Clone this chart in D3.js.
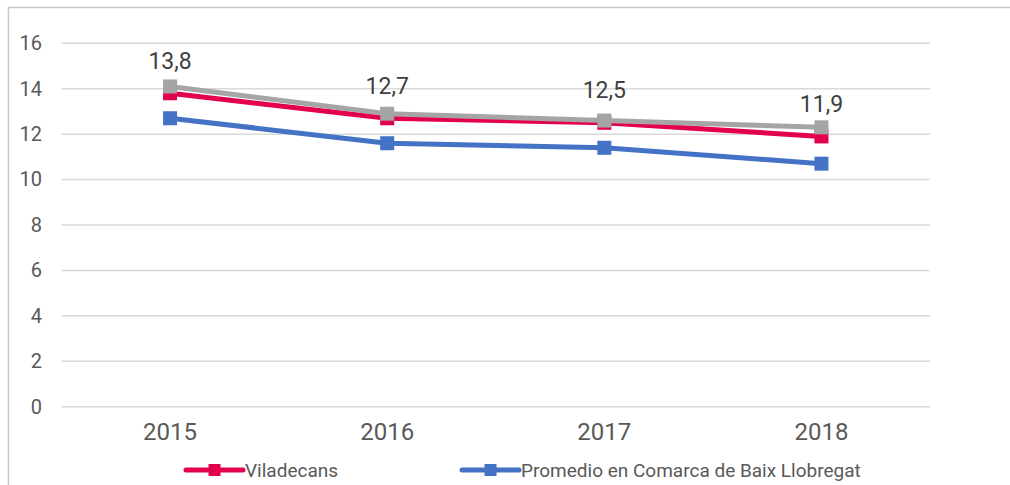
<!DOCTYPE html>
<html><head><meta charset="utf-8">
<script src="https://cdn.jsdelivr.net/npm/d3@7"></script>
<style>
html,body{margin:0;padding:0;background:#fff;}
svg{display:block;font-family:Roboto, "Noto Sans", sans-serif;}
</style></head>
<body><svg id="c" width="1010" height="485"></svg>
<script>
const categories = ["2015","2016","2017","2018"];
const viladecans = [13.8, 12.7, 12.5, 11.9];
const promedio = [12.7, 11.6, 11.4, 10.7];
const tercera = [14.1, 12.9, 12.6, 12.3];
const yTicks = [0,2,4,6,8,10,12,14,16];
const labels = ["13,8","12,7","12,5","11,9"];

const svg = d3.select("#c");
const x = d3.scaleBand().domain(categories).range([61.5, 930]).padding(0);
const y = d3.scaleLinear().domain([0,16]).range([406.7, 43.3]);
const cx = d => x(d) + x.bandwidth()/2;

// frame
svg.append("line").attr("x1",8.5).attr("x2",8.5).attr("y1",7).attr("y2",485).attr("stroke","#c8c8c8").attr("stroke-width",1.5);
svg.append("line").attr("x1",8).attr("x2",1010).attr("y1",7.5).attr("y2",7.5).attr("stroke","#c8c8c8").attr("stroke-width",1.5);

// grid
svg.append("g").selectAll("line").data(yTicks).join("line")
  .attr("x1",61.5).attr("x2",930).attr("y1",d=>y(d)).attr("y2",d=>y(d))
  .attr("stroke","#d9d9d9").attr("stroke-width",1.5);

// y axis labels
const yAxis = d3.axisLeft(y).tickValues(yTicks).tickSize(0).tickPadding(0).tickFormat(d3.format("d"));
const gy = svg.append("g").attr("transform","translate(42,0)").call(yAxis);
gy.select(".domain").remove();
gy.selectAll("text").attr("font-size",20).attr("fill","#595959").attr("font-family","Roboto");

// x axis labels
const xAxis = d3.axisBottom(x).tickSize(0).tickPadding(0);
const gx = svg.append("g").attr("transform","translate(0,423)").call(xAxis);
gx.select(".domain").remove();
gx.selectAll("text").attr("font-size",24).attr("fill","#595959").attr("font-family","Roboto");

const line = d3.line().x((d,i)=>cx(categories[i])).y(d=>y(d));
const series = [
  {vals: viladecans, color:"#E3004F"},
  {vals: promedio, color:"#4472C4"},
  {vals: tercera, color:"#A5A5A5"}
];
series.forEach(s=>{
  svg.append("path").datum(s.vals).attr("d",line).attr("fill","none")
    .attr("stroke",s.color).attr("stroke-width",5).attr("stroke-linejoin","round");
  svg.append("g").selectAll("rect").data(s.vals).join("rect")
    .attr("x",(d,i)=>cx(categories[i])-7).attr("y",d=>y(d)-7)
    .attr("width",14).attr("height",14).attr("fill",s.color);
});

// data labels
svg.append("g").selectAll("text").data(viladecans).join("text")
  .attr("x",(d,i)=>cx(categories[i])).attr("y",d=>y(d)-24.5)
  .attr("text-anchor","middle").attr("font-size",23).attr("fill","#404040")
  .text((d,i)=>labels[i]);

// legend
const legend = [
  {name:"Viladecans", color:"#E3004F", x1:186, x2:243},
  {name:"Promedio en Comarca de Baix Llobregat", color:"#4472C4", x1:462, x2:519}
];
const lg = svg.append("g");
legend.forEach(l=>{
  lg.append("line").attr("x1",l.x1).attr("x2",l.x2).attr("y1",470).attr("y2",470)
    .attr("stroke",l.color).attr("stroke-width",5).attr("stroke-linecap","round");
  lg.append("rect").attr("x",(l.x1+l.x2)/2-6).attr("y",464).attr("width",12).attr("height",12).attr("fill",l.color);
  lg.append("text").attr("x",l.x2+2).attr("y",477).attr("font-size",19).attr("fill","#595959").text(l.name);
});
</script></body></html>
